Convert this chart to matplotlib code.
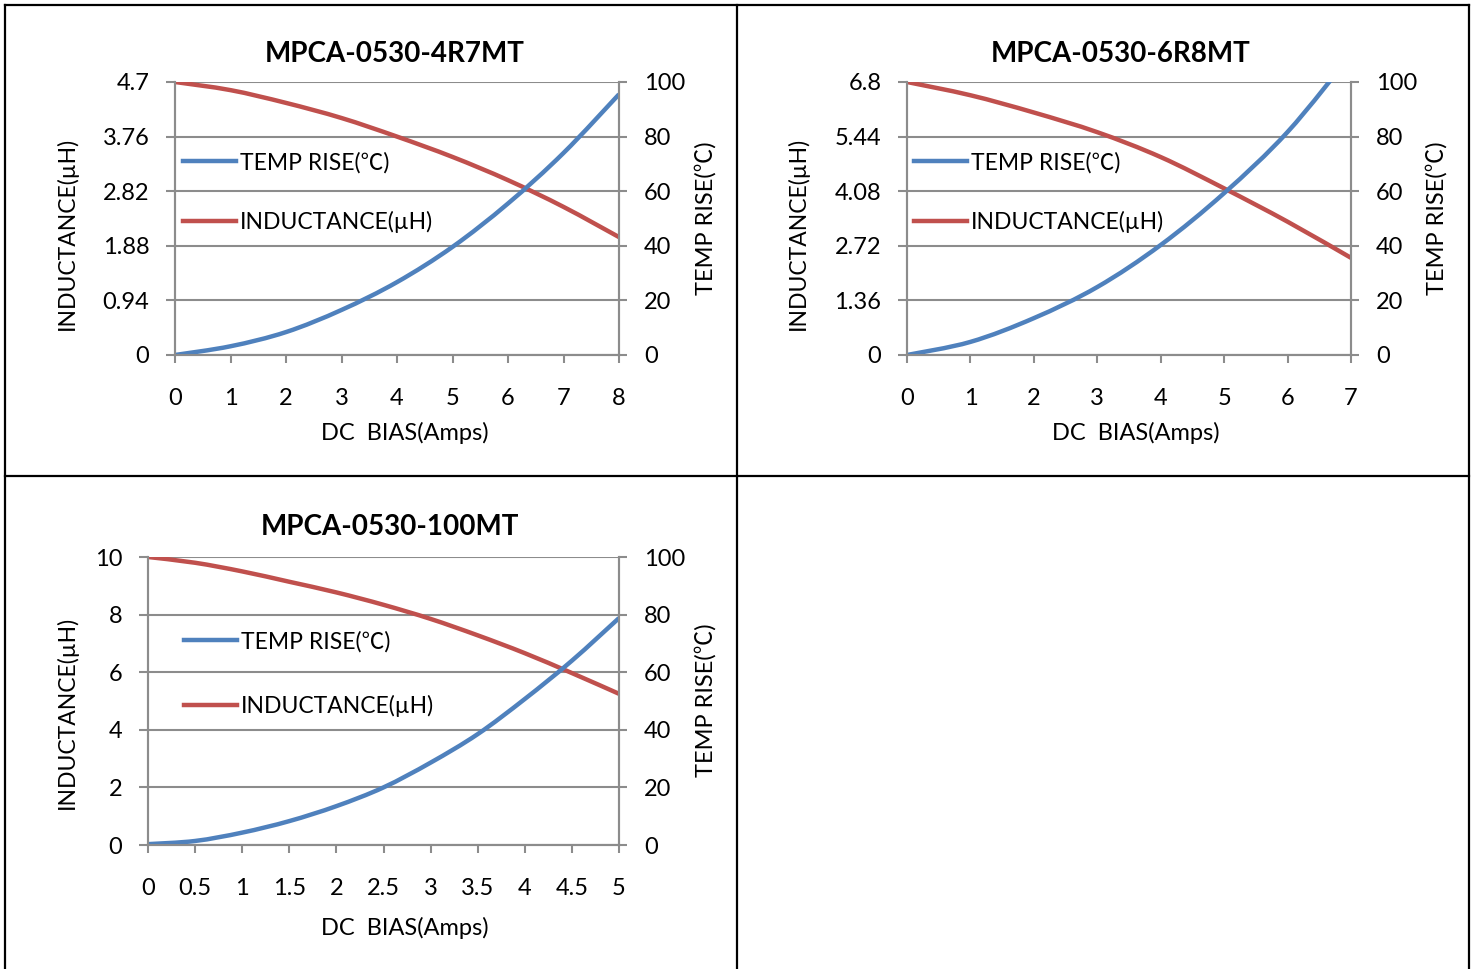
import matplotlib
matplotlib.use('Agg')
import matplotlib.pyplot as plt
from matplotlib.lines import Line2D
from matplotlib.path import Path
from matplotlib.patches import PathPatch

plt.rcParams['font.family'] = ['Lato', 'Noto Sans CJK SC', 'DejaVu Sans']

# ---- data ----
titles = ['MPCA-0530-4R7MT', 'MPCA-0530-6R8MT', 'MPCA-0530-100MT']

bias_4r7 = [0, 1, 2, 3, 4, 5, 6, 7, 8]
ind_4r7 = [4.70, 4.56, 4.34, 4.08, 3.76, 3.41, 3.01, 2.55, 2.03]
temp_4r7 = [0, 3.2, 8.4, 16.5, 26.7, 39.6, 55.5, 74, 95.5]

bias_6r8 = [0, 1, 2, 3, 4, 5, 6, 7]
ind_6r8 = [6.80, 6.47, 6.04, 5.55, 4.93, 4.15, 3.32, 2.42]
temp_6r8 = [0, 4.8, 13.5, 24.9, 40.3, 59.3, 81.7, 110]

bias_100 = [0, 0.5, 1, 1.5, 2, 2.5, 3, 3.5, 4, 4.5, 5]
ind_100 = [10.0, 9.8, 9.5, 9.14, 8.77, 8.34, 7.85, 7.28, 6.66, 5.97, 5.25]
temp_100 = [0.3, 1.4, 4.3, 8.3, 13.5, 20, 28.6, 38.5, 50.7, 64, 78.8]

ind_ticks_4r7 = [0, 0.94, 1.88, 2.82, 3.76, 4.7]
ind_ticks_6r8 = [0, 1.36, 2.72, 4.08, 5.44, 6.8]
ind_ticks_100 = [0, 2, 4, 6, 8, 10]
temp_ticks = [0, 20, 40, 60, 80, 100]

BLUE = '#4F81BD'
RED = '#C0504D'
GRID = '#8C8C8C'
LW = 3.2
FS = 16.5

W, H = 1474, 969
fig = plt.figure(figsize=(W / 100, H / 100), dpi=100)


def fx(px):
    return px / W


def fy(py):
    return 1 - py / H


def smooth_line(ax, x, y, color):
    # Excel-style smoothed line: cubic bezier through the points
    verts = [(x[0], y[0])]
    codes = [Path.MOVETO]
    n = len(x)
    for i in range(n - 1):
        x0, y0 = (x[i - 1], y[i - 1]) if i > 0 else (x[i], y[i])
        x3, y3 = (x[i + 2], y[i + 2]) if i + 2 < n else (x[i + 1], y[i + 1])
        c1 = (x[i] + (x[i + 1] - x0) / 6, y[i] + (y[i + 1] - y0) / 6)
        c2 = (x[i + 1] - (x3 - x[i]) / 6, y[i + 1] - (y3 - y[i]) / 6)
        verts += [c1, c2, (x[i + 1], y[i + 1])]
        codes += [Path.CURVE4] * 3
    ax.add_patch(PathPatch(Path(verts, codes), facecolor='none',
                           edgecolor=color, lw=LW, capstyle='butt'))


def panel(box, x, ind, temp, xlabels, ind_ticks, title, title_xy,
          xlab_xy, ylab_l, ylab_r, leg_xy, leg_gap):
    l, r, t, b = box
    ax = fig.add_axes([fx(l), fy(b), fx(r - l), (b - t) / H])
    ax2 = ax.twinx()

    smooth_line(ax, x, ind, RED)
    smooth_line(ax2, x, temp, BLUE)

    ax.set_xlim(x[0], x[-1])
    ax.set_ylim(ind_ticks[0], ind_ticks[-1])
    ax2.set_ylim(0, 100)
    ax.set_xticks(x)
    ax.set_xticklabels(xlabels)
    ax.set_yticks(ind_ticks)
    ax.set_yticklabels([('%g' % v) for v in ind_ticks])
    ax2.set_yticks(temp_ticks)

    ax.grid(axis='y', color=GRID, lw=1.5)
    ax.set_axisbelow(True)
    for a in (ax, ax2):
        for s in a.spines.values():
            s.set_color(GRID)
            s.set_linewidth(1.5)
        a.spines['top'].set_visible(False)
    ax.tick_params(axis='x', direction='out', length=6, width=1.5, color=GRID,
                   pad=18, labelsize=17)
    ax.tick_params(axis='y', direction='out', length=6.5, width=1.5, color=GRID,
                   pad=12, labelsize=17)
    ax2.tick_params(axis='y', direction='out', length=6, width=1.5, color=GRID,
                    pad=12, labelsize=17)

    fig.text(fx(title_xy[0]), fy(title_xy[1]), title, ha='center', va='center',
             fontsize=20, fontweight='bold')
    fig.text(fx(xlab_xy[0]), fy(xlab_xy[1]), 'DC  BIAS(Amps)', ha='center',
             va='center', fontsize=17)
    fig.text(fx(ylab_l[0]), fy(ylab_l[1]), 'INDUCTANCE(µH)', ha='center',
             va='center', rotation=90, fontsize=FS)
    fig.text(fx(ylab_r[0]), fy(ylab_r[1]), 'TEMP RISE(℃)', ha='center',
             va='center', rotation=90, fontsize=17)

    handles = [Line2D([], [], color=BLUE, lw=LW), Line2D([], [], color=RED, lw=LW)]
    ax2.legend(handles, ['TEMP RISE(℃)', 'INDUCTANCE(µH)'], loc='upper left',
               bbox_to_anchor=(fx(leg_xy[0]), fy(leg_xy[1])),
               bbox_transform=fig.transFigure, frameon=False, fontsize=FS,
               handlelength=2.3, handletextpad=0.2, labelspacing=leg_gap,
               borderpad=0, borderaxespad=0)


panel((175, 619, 82, 355), bias_4r7, ind_4r7, temp_4r7,
      [str(v) for v in bias_4r7], ind_ticks_4r7, titles[0], (395, 54),
      (405, 433), (67, 233), (706, 218), (183, 152), 1.65)

panel((907, 1351, 82, 355), bias_6r8, ind_6r8, temp_6r8,
      [str(v) for v in bias_6r8], ind_ticks_6r8, titles[1], (1121, 54),
      (1136, 433), (798, 233), (1437, 218), (914, 152), 1.65)

panel((148, 619, 557, 845), bias_100, ind_100, temp_100,
      ['%g' % v for v in bias_100], ind_ticks_100, titles[2], (390, 527),
      (405, 928), (67, 712), (706, 700), (184, 631), 1.86)

# table borders around the three cells
for xs, ys in [((5, 1469), (5, 5)), ((5, 1469), (476, 476)),
               ((5, 5), (5, 969)), ((737, 737), (5, 969)),
               ((1469, 1469), (5, 969))]:
    fig.add_artist(Line2D([fx(v) for v in xs], [fy(v) for v in ys],
                          color='black', lw=1.6, transform=fig.transFigure))

fig.savefig('out.png', dpi=100)
